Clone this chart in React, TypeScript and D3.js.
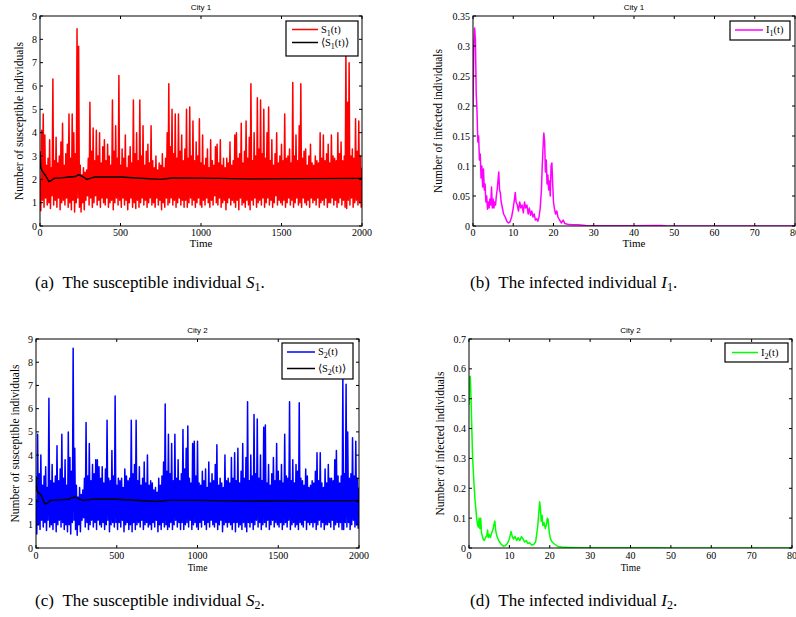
import React from 'react';
import * as d3 from 'd3';

// S(t): local maxima every 10 time units (t = 0, 10, ...)
// and local minima in between (t = 5, 15, ...)
const S_STEP = 10;
const S1_PEAK = [
  2.0, 4.1, 4.8, 3.9, 2.6, 2.9, 3.7, 2.5, 6.3, 2.8,
  3.8, 2.7, 3.0, 3.6, 4.4, 2.6, 3.1, 3.5, 4.8, 2.9,
  4.8, 4.0, 3.1, 8.45, 7.7, 2.6, 2.2, 2.5, 2.3, 2.4,
  2.9, 5.3, 3.2, 4.2, 2.8, 4.1, 3.0, 4.0, 2.7, 3.4,
  3.7, 2.8, 3.5, 3.0, 2.6, 5.4, 3.2, 4.3, 2.9, 6.45,
  2.6, 3.3, 2.9, 3.9, 2.5, 3.0, 3.4, 2.7, 5.4, 3.1,
  4.0, 2.8, 5.4, 3.0, 4.3, 2.6, 3.2, 3.5, 2.7, 4.3,
  2.8, 2.5, 3.0, 2.4, 2.7, 2.6, 3.1, 2.5, 2.9, 4.0,
  6.1, 3.4, 5.0, 3.1, 4.8, 2.9, 4.8, 3.2, 3.9, 2.8,
  3.3, 5.0, 2.9, 5.1, 3.0, 4.5, 2.8, 3.6, 3.0, 4.6,
  2.7, 3.9, 2.6, 2.9, 3.3, 2.5, 3.7, 2.8, 2.6, 3.4,
  3.5, 2.7, 3.7, 2.6, 2.9, 2.5, 2.9, 2.7, 3.6, 2.6,
  2.8, 3.9, 4.0, 2.9, 3.1, 4.4, 2.7, 3.2, 4.5, 2.9,
  3.8, 6.1, 2.8, 4.0, 3.0, 5.5, 3.3, 5.4, 3.1, 5.0,
  2.9, 4.0, 5.1, 2.8, 3.7, 2.6, 3.1, 4.0, 2.7, 3.0,
  3.5, 2.8, 4.8, 2.9, 3.0, 3.3, 2.7, 6.15, 3.0, 3.9,
  2.8, 4.3, 6.1, 2.9, 3.2, 3.3, 2.6, 3.0, 3.5, 2.7,
  2.6, 3.0, 2.8, 2.7, 4.0, 2.9, 3.9, 2.8, 3.1, 3.5,
  2.7, 3.9, 3.0, 2.9, 2.8, 4.0, 3.1, 3.6, 2.8, 3.0,
  7.5, 5.3, 7.0, 3.0, 3.3, 2.9, 4.6, 3.2, 4.5, 3.0,
  2.5,
];
const S1_TROUGH = [
  0.65, 1.1, 0.8, 1.2, 0.9, 1.0, 0.75, 1.3, 0.9, 1.1,
  0.8, 1.2, 0.7, 1.0, 1.1, 0.9, 1.2, 0.8, 1.0, 0.7,
  1.1, 0.6, 1.0, 1.2, 0.8, 0.6, 1.0, 0.7, 1.1, 1.3,
  0.9, 1.2, 0.8, 1.0, 1.3, 0.9, 1.1, 0.8, 1.2, 1.0,
  0.9, 1.2, 0.8, 1.0, 1.1, 0.7, 1.0, 1.2, 0.9, 1.1,
  0.8, 1.2, 0.9, 1.1, 0.7, 1.0, 1.2, 0.8, 1.0, 0.75,
  1.1, 0.8, 1.0, 1.2, 0.9, 1.1, 0.8, 1.0, 1.2, 0.9,
  1.0, 0.8, 1.2, 0.9, 1.1, 0.7, 1.0, 0.8, 1.2, 0.9,
  1.0, 1.2, 0.9, 1.1, 0.8, 1.0, 1.2, 0.9, 1.1, 0.8,
  1.1, 0.8, 1.0, 1.2, 0.9, 1.1, 0.8, 1.0, 1.2, 0.9,
  0.8, 1.1, 0.9, 1.2, 1.0, 0.8, 1.1, 0.9, 1.3, 1.0,
  0.9, 1.2, 0.8, 1.0, 1.1, 0.7, 1.0, 1.2, 0.9, 1.1,
  1.0, 0.8, 1.1, 0.7, 1.2, 0.9, 1.0, 0.8, 1.1, 0.9,
  0.7, 1.1, 0.9, 1.2, 0.8, 1.0, 1.1, 0.9, 1.2, 0.8,
  1.0, 1.2, 0.9, 1.1, 0.8, 1.0, 1.3, 0.9, 1.1, 1.0,
  0.9, 1.1, 0.8, 1.0, 1.2, 0.9, 1.1, 0.8, 1.0, 1.2,
  0.9, 1.0, 0.8, 1.2, 1.0, 0.9, 1.1, 0.8, 1.2, 1.0,
  1.1, 0.9, 1.2, 0.8, 1.0, 1.1, 0.9, 1.2, 0.8, 1.0,
  1.0, 1.2, 0.9, 1.1, 0.8, 1.0, 1.2, 0.9, 1.1, 0.8,
  0.75, 1.1, 0.9, 1.2, 0.8, 1.0, 1.1, 0.9, 1.0, 0.8,
];

const S2_PEAK = [
  2.1, 4.9, 3.2, 4.0, 2.7, 3.1, 3.5, 2.6, 6.45, 2.9,
  3.6, 2.8, 3.1, 4.4, 2.9, 3.4, 4.9, 3.0, 3.8, 2.7,
  5.0, 3.9, 3.3, 8.6, 4.3, 2.7, 2.2, 2.6, 2.3, 2.5,
  3.0, 5.4, 3.1, 4.5, 2.9, 3.6, 3.2, 3.8, 3.8, 3.5,
  3.0, 3.5, 2.8, 3.4, 5.5, 3.0, 2.9, 4.2, 3.1, 6.55,
  2.7, 3.0, 2.9, 3.0, 2.6, 3.4, 3.1, 2.9, 3.0, 5.5,
  3.2, 3.6, 5.5, 2.9, 3.5, 2.7, 3.0, 3.7, 2.8, 4.0,
  2.7, 2.9, 2.8, 2.5, 2.6, 2.4, 3.0, 2.7, 3.1, 3.7,
  6.2, 3.3, 4.9, 3.2, 4.5, 2.9, 4.9, 3.0, 3.8, 2.9,
  3.2, 5.1, 3.4, 4.3, 5.25, 3.0, 2.8, 4.5, 4.6, 3.1,
  4.6, 2.8, 2.7, 3.3, 2.9, 3.4, 2.6, 3.7, 2.8, 3.2,
  2.9, 3.6, 4.45, 2.7, 3.0, 2.8, 2.6, 4.0, 2.9, 3.0,
  2.8, 3.9, 3.0, 4.1, 2.9, 4.3, 2.8, 3.3, 4.5, 3.0,
  3.9, 6.3, 2.9, 4.0, 3.1, 5.75, 3.2, 5.55, 3.0, 4.0,
  2.9, 5.2, 5.3, 2.8, 3.6, 2.7, 3.2, 3.9, 2.9, 4.5,
  3.3, 2.9, 3.6, 2.8, 4.9, 3.1, 3.0, 6.3, 2.9, 3.8,
  2.8, 3.6, 3.3, 6.25, 3.0, 2.9, 2.7, 3.4, 3.1, 2.6,
  2.7, 2.9, 2.8, 3.3, 4.1, 2.9, 4.1, 2.8, 2.6, 3.4,
  2.8, 3.6, 3.0, 3.0, 2.9, 3.8, 4.2, 3.1, 2.8, 3.1,
  7.3, 3.2, 7.05, 5.0, 3.0, 3.2, 4.75, 3.1, 4.6, 3.0,
  2.6,
];
const S2_TROUGH = [
  0.6, 1.0, 0.8, 1.2, 0.9, 1.1, 0.75, 1.2, 0.9, 1.0,
  0.8, 1.1, 0.7, 1.0, 1.2, 0.9, 1.1, 0.8, 1.0, 0.7,
  1.0, 0.6, 1.1, 1.2, 0.8, 0.55, 1.0, 0.7, 1.2, 1.3,
  0.9, 1.1, 0.8, 1.0, 1.2, 0.9, 1.1, 0.8, 1.2, 1.0,
  0.9, 1.1, 0.8, 1.0, 1.2, 0.7, 1.0, 1.1, 0.9, 1.1,
  0.8, 1.1, 0.9, 1.2, 0.7, 1.0, 1.1, 0.8, 1.0, 0.7,
  1.1, 0.8, 1.0, 1.1, 0.9, 1.2, 0.8, 1.0, 1.1, 0.9,
  1.0, 0.8, 1.1, 0.9, 1.2, 0.7, 1.0, 0.8, 1.1, 0.9,
  1.0, 0.8, 0.9, 1.1, 0.8, 1.0, 1.2, 0.9, 1.1, 0.8,
  1.1, 0.8, 1.0, 1.1, 0.9, 1.2, 0.8, 1.0, 1.1, 0.9,
  0.8, 1.1, 0.9, 1.2, 1.0, 0.8, 1.1, 0.9, 1.2, 1.0,
  0.9, 1.1, 0.8, 1.0, 1.2, 0.7, 1.0, 1.1, 0.9, 1.1,
  1.0, 0.8, 1.1, 0.7, 1.1, 0.9, 1.0, 0.8, 1.1, 0.9,
  0.7, 1.1, 0.9, 1.1, 0.8, 1.0, 1.2, 0.9, 1.1, 0.8,
  1.0, 1.1, 0.9, 1.2, 0.8, 1.0, 1.2, 0.9, 1.1, 1.0,
  0.9, 1.1, 0.8, 1.0, 1.1, 0.9, 1.2, 0.8, 1.0, 1.1,
  0.9, 1.0, 0.8, 1.1, 1.0, 0.9, 1.2, 0.8, 1.1, 1.0,
  1.1, 0.9, 1.1, 0.8, 1.0, 1.2, 0.9, 1.1, 0.8, 1.0,
  1.0, 1.1, 0.9, 1.2, 0.8, 1.0, 1.1, 0.9, 1.1, 0.8,
  0.8, 1.1, 0.9, 1.1, 0.8, 1.0, 1.2, 0.9, 1.0, 0.85,
];

// running means [t, value]
const S1_MEAN: [number, number][] = [
  [0, 3.2], [5, 2.5], [10, 2.4], [20, 2.3], [40, 2.1], [55, 1.9], [70, 1.95],
  [90, 2.05], [120, 2.05], [180, 2.1], [220, 2.12], [240, 2.2], [270, 2.1],
  [290, 2.0], [340, 2.1], [500, 2.1], [600, 2.06], [750, 2.0], [820, 2.06],
  [1000, 2.05], [1300, 2.02], [1600, 2.03], [2000, 2.04],
];

const S2_MEAN: [number, number][] = [
  [0, 3.1], [5, 2.5], [10, 2.4], [30, 2.3], [45, 2.05], [55, 1.9], [70, 1.92],
  [90, 2.05], [200, 2.1], [240, 2.2], [290, 2.05], [350, 2.1], [500, 2.1],
  [750, 2.0], [820, 2.05], [1000, 2.05], [1300, 2.02], [1600, 2.03], [2000, 2.04],
];

const I1: [number, number][] = [
  [0, 0.2], [0.2, 0.3], [0.4, 0.33], [0.6, 0.31], [0.8, 0.22], [1.0, 0.19],
  [1.2, 0.14], [1.4, 0.15], [1.6, 0.11], [1.8, 0.12], [2.0, 0.08], [2.2, 0.1],
  [2.4, 0.065], [2.6, 0.095], [2.8, 0.06], [3.0, 0.07], [3.2, 0.04], [3.4, 0.05],
  [3.6, 0.028], [3.8, 0.04], [4.0, 0.03], [4.2, 0.045], [4.4, 0.035], [4.6, 0.065],
  [4.8, 0.03], [5.0, 0.045], [5.2, 0.03], [5.4, 0.04], [5.6, 0.035], [5.8, 0.05],
  [6.0, 0.06], [6.2, 0.075], [6.4, 0.09], [6.6, 0.06], [6.8, 0.055], [7.0, 0.04],
  [7.3, 0.03], [7.6, 0.02], [8.0, 0.015], [8.4, 0.008], [8.8, 0.005], [9.2, 0.007],
  [9.6, 0.015], [10.0, 0.03], [10.3, 0.045], [10.5, 0.056], [10.7, 0.04], [11.0, 0.035],
  [11.3, 0.025], [11.6, 0.04], [11.9, 0.03], [12.2, 0.035], [12.5, 0.022], [12.8, 0.04],
  [13.1, 0.03], [13.4, 0.035], [13.7, 0.02], [14.0, 0.03], [14.3, 0.018], [14.6, 0.025],
  [14.9, 0.015], [15.2, 0.02], [15.5, 0.01], [15.8, 0.012], [16.1, 0.008], [16.4, 0.015],
  [16.7, 0.03], [17.0, 0.06], [17.2, 0.1], [17.4, 0.13], [17.6, 0.155], [17.8, 0.14],
  [18.0, 0.09], [18.2, 0.11], [18.4, 0.07], [18.6, 0.085], [18.8, 0.06], [19.0, 0.075],
  [19.2, 0.05], [19.4, 0.1], [19.6, 0.105], [19.8, 0.07], [20.0, 0.04], [20.2, 0.03],
  [20.5, 0.02], [20.8, 0.025], [21.1, 0.015], [21.5, 0.01], [22.0, 0.005], [22.4, 0.01],
  [22.8, 0.004], [23.5, 0.003], [24.5, 0.002], [26, 0.002], [28, 0.001], [30, 0.0005],
  [35, 0.0005], [40, 0.0003], [45, 0.0008], [47, 0.001], [48, 0.0002], [55, 0], [80, 0],
];

const I2: [number, number][] = [
  [0, 0.48], [0.1, 0.57], [0.3, 0.575], [0.5, 0.5], [0.7, 0.4], [0.9, 0.3],
  [1.1, 0.25], [1.3, 0.2], [1.5, 0.16], [1.7, 0.13], [1.9, 0.1], [2.1, 0.08],
  [2.3, 0.07], [2.5, 0.1], [2.7, 0.065], [2.9, 0.1], [3.1, 0.05], [3.3, 0.04],
  [3.5, 0.03], [3.8, 0.025], [4.1, 0.035], [4.4, 0.04], [4.6, 0.06], [4.8, 0.035],
  [5.0, 0.045], [5.3, 0.035], [5.6, 0.05], [5.9, 0.06], [6.2, 0.08], [6.4, 0.09],
  [6.6, 0.06], [6.9, 0.04], [7.2, 0.03], [7.6, 0.02], [8.0, 0.012], [8.5, 0.006],
  [9.0, 0.008], [9.5, 0.015], [10.0, 0.03], [10.4, 0.055], [10.7, 0.04], [11.0, 0.03],
  [11.4, 0.038], [11.8, 0.025], [12.2, 0.035], [12.6, 0.025], [13.0, 0.038], [13.4, 0.03],
  [13.8, 0.02], [14.2, 0.025], [14.6, 0.015], [15.0, 0.018], [15.5, 0.01], [16.0, 0.012],
  [16.5, 0.02], [17.0, 0.07], [17.3, 0.12], [17.5, 0.155], [17.7, 0.13], [17.9, 0.09],
  [18.1, 0.11], [18.3, 0.075], [18.6, 0.085], [18.9, 0.065], [19.2, 0.08], [19.4, 0.1],
  [19.6, 0.095], [19.9, 0.05], [20.2, 0.03], [20.6, 0.02], [21.0, 0.015], [21.5, 0.01],
  [22, 0.005], [23, 0.003], [25, 0.002], [28, 0.001], [35, 0.0005], [46, 0.001],
  [50, 0], [80, 0],
];

const S_X_TICKS = [0, 500, 1000, 1500, 2000];
const S_Y_TICKS = [0, 1, 2, 3, 4, 5, 6, 7, 8, 9];
const I_X_TICKS = [0, 10, 20, 30, 40, 50, 60, 70, 80];
const I1_Y_TICKS = [0, 0.05, 0.1, 0.15, 0.2, 0.25, 0.3, 0.35];
const I2_Y_TICKS = [0, 0.1, 0.2, 0.3, 0.4, 0.5, 0.6, 0.7];

const SERIF = '"Liberation Serif", "Times New Roman", serif';
const SANS = '"Liberation Sans", Arial, sans-serif';

// peaks at t = i*10, troughs at t = i*10 + 5
const zigzag = (peaks: number[], troughs: number[]): [number, number][] => {
  const pts: [number, number][] = [];
  peaks.forEach((v, i) => {
    pts.push([i * S_STEP, v]);
    if (i < troughs.length) pts.push([i * S_STEP + S_STEP / 2, troughs[i]]);
  });
  return pts;
};

type Series = { points: [number, number][]; color: string; width: number };
type LegendItem = { name: string; sub: string; mean?: boolean; color: string };

type PanelProps = {
  id: string;
  left: number; right: number; top: number; bottom: number;
  xDomain: [number, number]; xTicks: number[];
  yDomain: [number, number]; yTicks: number[];
  title: string; ylabel: string; ylabelX: number;
  xTickY: number; xLabelY: number; xLabelSize: number;
  series: Series[];
  legend: { x: number; y: number; w: number; h: number; lineX0: number; lineX1: number; textX: number; rows: number[] };
  items: LegendItem[];
};

function Panel(p: PanelProps) {
  const x = d3.scaleLinear().domain(p.xDomain).range([p.left, p.right]);
  const y = d3.scaleLinear().domain(p.yDomain).range([p.bottom, p.top]);
  const line = d3.line<[number, number]>().x(d => x(d[0])).y(d => y(d[1]));
  const tl = 3;
  const fmt = (v: number) => String(+v.toFixed(2));
  const cx = (p.left + p.right) / 2;
  return (
    <g>
      <clipPath id={p.id}>
        <rect x={p.left} y={p.top} width={p.right - p.left} height={p.bottom - p.top} />
      </clipPath>
      <g clipPath={`url(#${p.id})`}>
        {p.series.map((s, i) => (
          <path key={i} d={line(s.points) || ''} fill="none" stroke={s.color} strokeWidth={s.width} strokeLinejoin="round" />
        ))}
      </g>
      <rect x={p.left} y={p.top} width={p.right - p.left} height={p.bottom - p.top} fill="none" stroke="#000" strokeWidth={1} />
      {p.xTicks.map(t => (
        <g key={'x' + t}>
          <line x1={x(t)} x2={x(t)} y1={p.bottom} y2={p.bottom - tl} stroke="#000" />
          <line x1={x(t)} x2={x(t)} y1={p.top} y2={p.top + tl} stroke="#000" />
          <text x={x(t)} y={p.xTickY} textAnchor="middle" fontFamily={SERIF} fontSize={10}>{t}</text>
        </g>
      ))}
      {p.yTicks.map(t => (
        <g key={'y' + t}>
          <line x1={p.left} x2={p.left + tl} y1={y(t)} y2={y(t)} stroke="#000" />
          <line x1={p.right} x2={p.right - tl} y1={y(t)} y2={y(t)} stroke="#000" />
          <text x={p.left - 3} y={y(t) + 3.5} textAnchor="end" fontFamily={SERIF} fontSize={10}>{fmt(t)}</text>
        </g>
      ))}
      <text x={cx} y={p.xLabelY} textAnchor="middle" fontFamily={SERIF} fontSize={p.xLabelSize}>Time</text>
      <text transform={`translate(${p.ylabelX},${(p.top + p.bottom) / 2}) rotate(-90)`} textAnchor="middle" fontFamily={SERIF} fontSize={11.5}>{p.ylabel}</text>
      <text x={cx} y={p.top - 6} textAnchor="middle" fontFamily={SANS} fontSize={8}>{p.title}</text>
      <rect x={p.legend.x} y={p.legend.y} width={p.legend.w} height={p.legend.h} fill="#fff" stroke="#000" strokeWidth={1.2} />
      {p.items.map((it, i) => (
        <g key={i}>
          <line x1={p.legend.lineX0} x2={p.legend.lineX1} y1={p.legend.rows[i]} y2={p.legend.rows[i]} stroke={it.color} strokeWidth={1.5} />
          <text x={p.legend.textX} y={p.legend.rows[i] + 3} fontFamily={SERIF} fontSize={10.5}>
            {it.mean ? '\u27E8' : ''}{it.name}
            <tspan dy={3} fontSize={8}>{it.sub}</tspan>
            <tspan dy={-3}>(t){it.mean ? '\u27E9' : ''}</tspan>
          </text>
        </g>
      ))}
    </g>
  );
}

function Caption({ x, y, label, text, sym, sub }: { x: number; y: number; label: string; text: string; sym: string; sub: string }) {
  return (
    <text x={x} y={y} fontFamily={SERIF} fontSize={17}>
      {label}{'\u00A0\u00A0'}{text}
      <tspan fontStyle="italic">{sym}</tspan>
      <tspan dy={3} fontSize={12}>{sub}</tspan>
      <tspan dy={-3}>.</tspan>
    </text>
  );
}

export default function App() {
  return (
    <svg width={796} height={617} style={{ position: 'absolute', left: 0, top: 0, background: '#fff' }}>
      <Panel
        id="pa" left={40} right={362} top={16} bottom={226}
        xDomain={[0, 2000]} xTicks={S_X_TICKS} yDomain={[0, 9]} yTicks={S_Y_TICKS}
        title="City 1" ylabel="Number of susceptible individuals" ylabelX={23}
        xTickY={235.5} xLabelY={247} xLabelSize={11}
        series={[{ points: zigzag(S1_PEAK, S1_TROUGH), color: '#ff0000', width: 1.5 }, { points: S1_MEAN, color: '#000', width: 1.4 }]}
        legend={{ x: 286, y: 21, w: 72, h: 35, lineX0: 292, lineX1: 318, textX: 321, rows: [29.5, 42.5] }}
        items={[{ name: 'S', sub: '1', color: '#ff0000' }, { name: 'S', sub: '1', mean: true, color: '#000' }]}
      />
      <Panel
        id="pb" left={473} right={795} top={16} bottom={226}
        xDomain={[0, 80]} xTicks={I_X_TICKS} yDomain={[0, 0.35]} yTicks={I1_Y_TICKS}
        title="City 1" ylabel="Number of infected individuals" ylabelX={442}
        xTickY={235.5} xLabelY={247} xLabelSize={11}
        series={[{ points: I1, color: '#ff00ff', width: 1.5 }]}
        legend={{ x: 730, y: 21, w: 60, h: 19, lineX0: 735, lineX1: 763, textX: 766, rows: [30] }}
        items={[{ name: 'I', sub: '1', color: '#ff00ff' }]}
      />
      <Panel
        id="pc" left={36} right={359} top={339} bottom={548}
        xDomain={[0, 2000]} xTicks={S_X_TICKS} yDomain={[0, 9]} yTicks={S_Y_TICKS}
        title="City 2" ylabel="Number of susceptible individuals" ylabelX={19}
        xTickY={559} xLabelY={571} xLabelSize={9.5}
        series={[{ points: zigzag(S2_PEAK, S2_TROUGH), color: '#0000ff', width: 1.5 }, { points: S2_MEAN, color: '#000', width: 1.4 }]}
        legend={{ x: 282, y: 343, w: 71, h: 36, lineX0: 287, lineX1: 315, textX: 318, rows: [352, 368.5] }}
        items={[{ name: 'S', sub: '2', color: '#0000ff' }, { name: 'S', sub: '2', mean: true, color: '#000' }]}
      />
      <Panel
        id="pd" left={469} right={792} top={339} bottom={548}
        xDomain={[0, 80]} xTicks={I_X_TICKS} yDomain={[0, 0.7]} yTicks={I2_Y_TICKS}
        title="City 2" ylabel="Number of infected individuals" ylabelX={444}
        xTickY={559} xLabelY={571} xLabelSize={9.5}
        series={[{ points: I2, color: '#00ff00', width: 1.5 }]}
        legend={{ x: 725, y: 343, w: 63, h: 19, lineX0: 732, lineX1: 758, textX: 761, rows: [352.5] }}
        items={[{ name: 'I', sub: '2', color: '#00ff00' }]}
      />
      <Caption x={35} y={288} label="(a)" text="The susceptible individual " sym="S" sub="1" />
      <Caption x={470} y={288} label="(b)" text="The infected individual " sym="I" sub="1" />
      <Caption x={35} y={606} label="(c)" text="The susceptible individual " sym="S" sub="2" />
      <Caption x={470} y={606} label="(d)" text="The infected individual " sym="I" sub="2" />
    </svg>
  );
}
